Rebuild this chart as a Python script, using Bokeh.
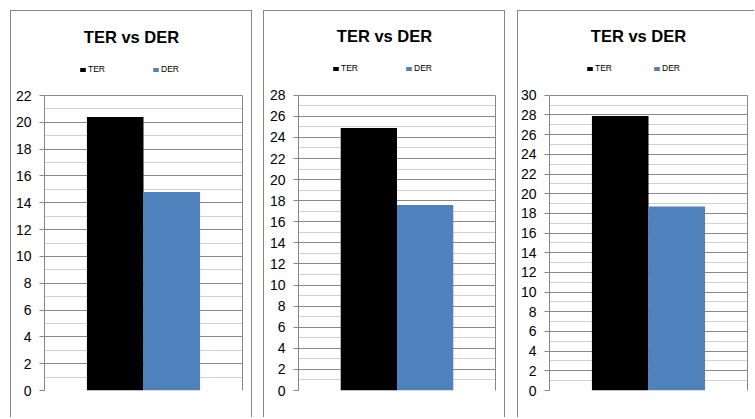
from bokeh.plotting import figure
from bokeh.models import (FactorRange, Range1d, SingleIntervalTicker, FixedTicker,
                          Legend, LegendItem, Label, LinearAxis, ColumnDataSource)
from bokeh.layouts import row
from bokeh.transform import dodge
from bokeh.embed import file_html
from bokeh.resources import INLINE

# ---------------- data ----------------
categories = ["1"]
series_names = ["TER", "DER"]
series_colors = ["#000000", "#4F81BD"]
chart_titles = ["TER vs DER", "TER vs DER", "TER vs DER"]
ter_values = [20.4, 24.9, 27.9]
der_values = [14.8, 17.6, 18.7]
axis_max = [22, 28, 30]
axis_step = 2

# ---------------- layout / style ----------------
PANEL_W = [242, 242, 237]
PANEL_LEFT_GAP = [10, 11, 12]
PANEL_TOP_GAP = 10
PANEL_H = 407
B_LEFT = [34, 35, 31]
B_RIGHT = [10, 10, 7]
PLOT_TOP = 85                 # top of plot area inside panel
B_BOTTOM = [27, 26, 26]
TITLE_X = [121, 121, 120]
TITLE_ABOVE = 59              # title centre above plot-area top
LEGEND_X = [69, 69, 68]
LEGEND_STEP = [73, 73, 67]
LEGEND_ABOVE = 21             # legend bottom above plot-area top
GAP_WIDTH = 1.5
GRAY = "#868686"
FONT = "Liberation Sans"

bar_w = 1.0 / (len(series_names) + GAP_WIDTH)

figs = []
for i in range(3):
    plot_h = PANEL_H - PLOT_TOP - B_BOTTOM[i]
    frame_h = PANEL_H - B_BOTTOM[i]
    y_top = axis_max[i] * frame_h / plot_h
    p = figure(width=PANEL_W[i], height=PANEL_H,
               x_range=FactorRange(*categories),
               y_range=Range1d(0, y_top),
               output_backend="svg", toolbar_location=None,
               min_border_left=B_LEFT[i], min_border_right=B_RIGHT[i],
               min_border_top=0, min_border_bottom=B_BOTTOM[i],
               margin=(PANEL_TOP_GAP, 0, 0, PANEL_LEFT_GAP[i]))
    p.title.visible = False
    p.border_fill_color = None
    p.background_fill_color = None
    p.outline_line_color = None
    if i < 2:
        p.styles = {"box-shadow": f"inset 1px 1px 0 {GRAY}, inset -1px 0 0 {GRAY}"}
    else:
        p.styles = {"box-shadow": f"inset 1px 1px 0 {GRAY}"}

    src = ColumnDataSource(dict(cat=categories, TER=[ter_values[i]], DER=[der_values[i]]))
    renderers = []
    n = len(series_names)
    for k, (name, color) in enumerate(zip(series_names, series_colors)):
        off = (k - (n - 1) / 2) * bar_w
        r = p.vbar(x=dodge("cat", off, range=p.x_range), top=name, width=bar_w,
                   source=src, fill_color=color, line_color=None)
        renderers.append(r)

    ticker = SingleIntervalTicker(interval=axis_step, num_minor_ticks=2)
    p.yaxis.ticker = ticker
    p.ygrid.ticker = ticker
    p.ygrid.bounds = (0, axis_max[i])
    p.ygrid.grid_line_color = "#8a8a8a"
    p.ygrid.minor_grid_line_color = "#d0d0d0"
    p.xgrid.visible = False
    p.xaxis.visible = False
    ax = p.yaxis[0]
    ax.bounds = (0, axis_max[i])
    ax.axis_line_color = GRAY
    ax.major_tick_line_color = GRAY
    ax.major_tick_out = 5
    ax.major_tick_in = 0
    ax.minor_tick_out = 0
    ax.minor_tick_in = 0
    ax.major_label_text_font = FONT
    ax.major_label_text_font_size = "14px"
    ax.major_label_text_color = "#000000"
    ax.major_label_standoff = 8

    rax = LinearAxis(ticker=FixedTicker(ticks=[]), bounds=(0, axis_max[i]),
                     axis_line_color=GRAY, major_tick_out=0, major_tick_in=0,
                     minor_tick_out=0, minor_tick_in=0, major_label_standoff=0)
    p.add_layout(rax, "right")

    item_w = 7 + 2 + 55
    legend = Legend(items=[LegendItem(label=nm, renderers=[rr])
                           for nm, rr in zip(series_names, renderers)],
                    orientation="horizontal",
                    location=(LEGEND_X[i] - B_LEFT[i], plot_h + LEGEND_ABOVE),
                    padding=0, margin=0, spacing=LEGEND_STEP[i] - item_w,
                    glyph_width=7, glyph_height=5, label_width=55,
                    label_height=9, label_standoff=2,
                    label_text_font=FONT, label_text_font_size="8.5px",
                    label_text_color="#000000",
                    label_text_baseline="middle",
                    border_line_color=None, background_fill_alpha=0)
    p.add_layout(legend, "center")

    p.add_layout(Label(x=TITLE_X[i] - B_LEFT[i], y=plot_h + TITLE_ABOVE,
                       x_units="screen", y_units="screen",
                       text=chart_titles[i], text_align="center",
                       text_baseline="middle", text_font=FONT,
                       text_font_style="bold", text_font_size="16.5px",
                       text_color="#000000"))
    figs.append(p)

layout = row(*figs)
open("out.html", "w").write(file_html(layout, INLINE))
